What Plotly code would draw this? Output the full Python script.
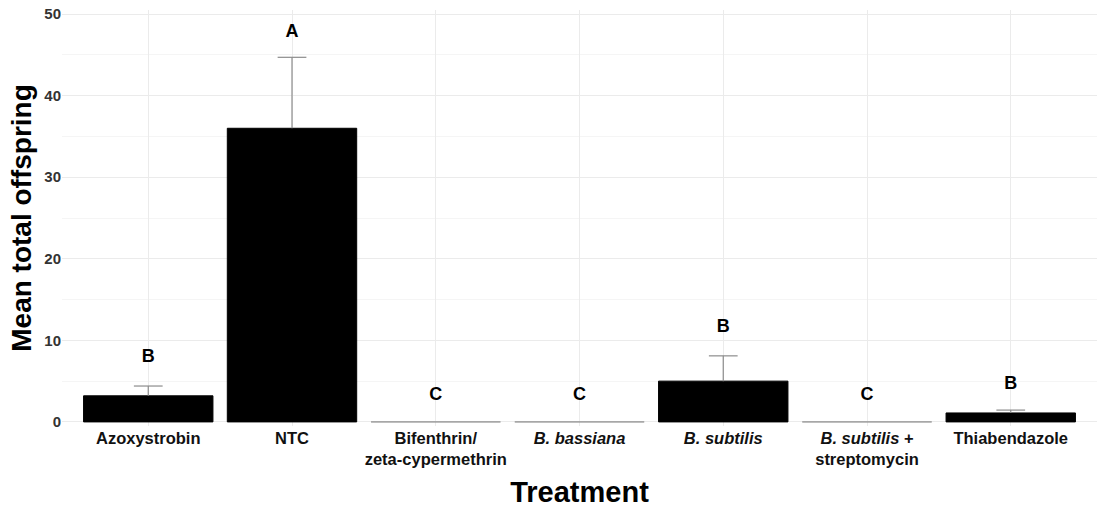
import plotly.graph_objects as go

# Treatments, mean offspring, standard errors and significance letters
treatments = ["Azoxystrobin", "NTC", "Bifenthrin/<br>zeta-cypermethrin", "<i>B. bassiana</i>",
              "<i>B. subtilis</i>", "<i>B. subtilis</i> +<br>streptomycin", "Thiabendazole"]
mean_offspring = [3.2, 36.0, 0.0, 0.0, 5.0, 0.0, 1.1]
std_error = [1.2, 8.7, 0.0, 0.0, 3.1, 0.0, 0.35]
letters = ["B", "A", "C", "C", "B", "C", "B"]
letter_y = [7.9, 47.7, 3.3, 3.3, 11.6, 3.3, 4.6]

x_idx = list(range(len(treatments)))
cap_half = 0.1  # half-width of the error-bar cap, in category units

# upper-only error bars: stem from the mean to mean + SE, cap on top
err_x, err_y = [], []
for i, (m, s) in enumerate(zip(mean_offspring, std_error)):
    if s <= 0:
        continue
    err_x += [i, i, None, i - cap_half, i + cap_half, None]
    err_y += [m, m + s, None, m + s, m + s, None]

fig = go.Figure()
fig.add_trace(go.Bar(
    x=x_idx, y=mean_offspring, width=0.9,
    marker=dict(color="black",
                line=dict(color=["black" if v > 0 else "#9a9a9a" for v in mean_offspring], width=1)),
    showlegend=False,
))
fig.add_trace(go.Scatter(
    x=err_x, y=err_y, mode="lines",
    line=dict(color="#8c8c8c", width=1.2),
    showlegend=False, hoverinfo="skip",
))
fig.add_trace(go.Scatter(
    x=x_idx, y=letter_y, mode="text", text=letters,
    textfont=dict(family="Liberation Sans", size=18, color="black", weight="bold"),
    showlegend=False,
))

fig.update_layout(
    width=1097, height=510,
    margin=dict(l=62, r=0, t=10, b=84),
    plot_bgcolor="white", paper_bgcolor="white",
    font=dict(family="Liberation Sans"),
)
fig.update_xaxes(
    range=[-0.6, 6.6], tickmode="array", tickvals=x_idx, ticktext=treatments,
    tickfont=dict(size=16.5, color="#111111", weight="bold"),
    showgrid=True, gridcolor="#ebebeb", gridwidth=1,
    zeroline=False, showline=False, ticks="",
    title=dict(text="<b>Treatment</b>", font=dict(size=29, color="black"), standoff=14),
)
fig.update_yaxes(
    range=[-0.5, 50.5], tickvals=[0, 10, 20, 30, 40, 50],
    tickfont=dict(size=15, color="#333333", weight="bold"),
    showgrid=True, gridcolor="#ebebeb", gridwidth=1,
    minor=dict(tickvals=[5, 15, 25, 35, 45], showgrid=True, gridcolor="#f5f5f5", gridwidth=1),
    zeroline=False, showline=False, ticks="",
    title=dict(text="<b>Mean total offspring</b>", font=dict(size=28, color="black"), standoff=4),
)

fig.write_html("out.html")
